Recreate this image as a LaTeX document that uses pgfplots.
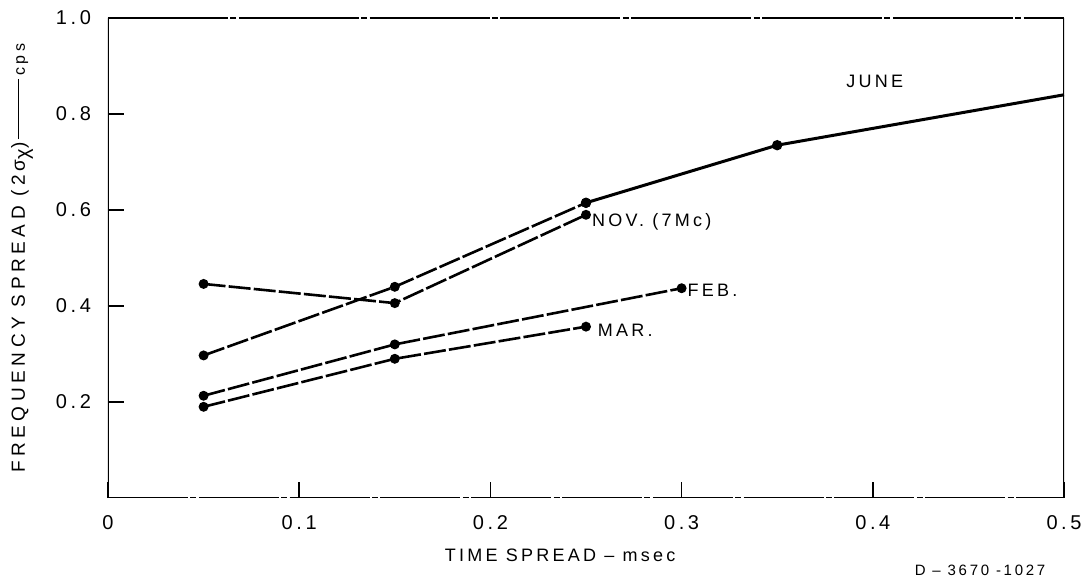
\documentclass[border=0pt]{standalone}
\usepackage{pgfplots}
\pgfplotsset{compat=1.18}
\usepackage{fontspec}
\setmainfont{Liberation Sans}
\newfontfamily\lab[LetterSpace=18]{Liberation Sans}
\newfontfamily\ylab[LetterSpace=24]{Liberation Sans}

\begin{document}
\begin{tikzpicture}
\path[use as bounding box] (-54bp,-41.5bp) rectangle (491bp,249bp);
\begin{axis}[
  scale only axis,
  width=478bp, height=240bp,
  xmin=0, xmax=0.5, ymin=0, ymax=1.0,
  xtick={0,0.1,0.2,0.3,0.4,0.5},
  xticklabels={0,0.1,0.2,0.3,0.4,0.5},
  ytick={0.2,0.4,0.6,0.8,1.0},
  yticklabels={0.2,0.4,0.6,0.8,1.0},
  xtick pos=left, ytick pos=left,
  tick align=inside,
  major tick length=8bp,
  tick style={black, line width=0.8bp},
  axis line style={draw=none},
  /pgf/number format/assume math mode=true,
  ticklabel style={font=\lab\fontsize{10bp}{12bp}\selectfont},
  xticklabel style={yshift=-5bp},
  yticklabel style={xshift=-5bp},
  xlabel={\lab TIME SPREAD – msec},
  xlabel style={at={(rel axis cs:0.473,0)}, anchor=center, yshift=-28.5bp, font=\fontsize{9bp}{11bp}\selectfont},
  ylabel={\ylab FREQUENCY SPREAD (2\,σ\textsubscript{\normalsize χ})\,\rule[0.3em]{30bp}{0.7bp}\,{\fontsize{8bp}{10bp}\selectfont cps}},
  ylabel style={at={(rel axis cs:0,0.5)}, anchor=center, yshift=43bp, font=\fontsize{9.5bp}{11bp}\selectfont},
  cycle list={{black}},
]
% JUNE (dashed part, then solid)
\addplot[black, line width=1.3bp, dash pattern=on 11bp off 1.6bp, mark=*, mark size=1.8bp, mark options={solid}]
  coordinates {(0.05,0.297) (0.15,0.44) (0.25,0.615)};
\addplot[black, solid, line width=1.5bp, mark=*, mark size=1.8bp, mark indices={1,2}]
  coordinates {(0.25,0.615) (0.35,0.735) (0.5,0.84)};
% NOV. (7Mc)
\addplot[black, line width=1.3bp, dash pattern=on 11bp off 1.6bp, mark=*, mark size=1.8bp, mark options={solid}]
  coordinates {(0.05,0.446) (0.15,0.406) (0.25,0.59)};
% FEB.
\addplot[black, line width=1.3bp, dash pattern=on 11bp off 1.6bp, mark=*, mark size=1.8bp, mark options={solid}]
  coordinates {(0.05,0.213) (0.15,0.32) (0.3,0.437)};
% MAR.
\addplot[black, line width=1.3bp, dash pattern=on 11bp off 1.6bp, mark=*, mark size=1.8bp, mark options={solid}]
  coordinates {(0.05,0.19) (0.15,0.29) (0.25,0.357)};

% frame
\draw[line width=1.5bp] (rel axis cs:0,0) -- (rel axis cs:0,1);
\draw[line width=1.1bp] (rel axis cs:1,0) -- (rel axis cs:1,1);
\draw[line width=0.8bp, dash pattern=on 40bp off 1.2bp on 3bp off 1.2bp] (rel axis cs:0,0) -- (rel axis cs:1,0);
\draw[line width=0.7bp, dash pattern=on 60bp off 1.2bp on 3bp off 1.2bp] (rel axis cs:0,1) -- (rel axis cs:1,1);

\node[font=\lab\fontsize{9bp}{11bp}\selectfont] at (axis cs:0.401,0.867) {JUNE};
\node[anchor=west, inner sep=0pt, font=\lab\fontsize{9bp}{11bp}\selectfont] at (axis cs:0.253,0.575) {NOV. (7Mc)};
\node[anchor=west, inner sep=0pt, font=\lab\fontsize{9bp}{11bp}\selectfont] at (axis cs:0.303,0.433) {FEB.};
\node[anchor=west, inner sep=0pt, font=\lab\fontsize{9bp}{11bp}\selectfont] at (axis cs:0.256,0.35) {MAR.};
\end{axis}
\node[font=\lab\fontsize{7.5bp}{9bp}\selectfont] at (436bp,-36bp) {D – 3670 -1027};
\end{tikzpicture}
\end{document}
